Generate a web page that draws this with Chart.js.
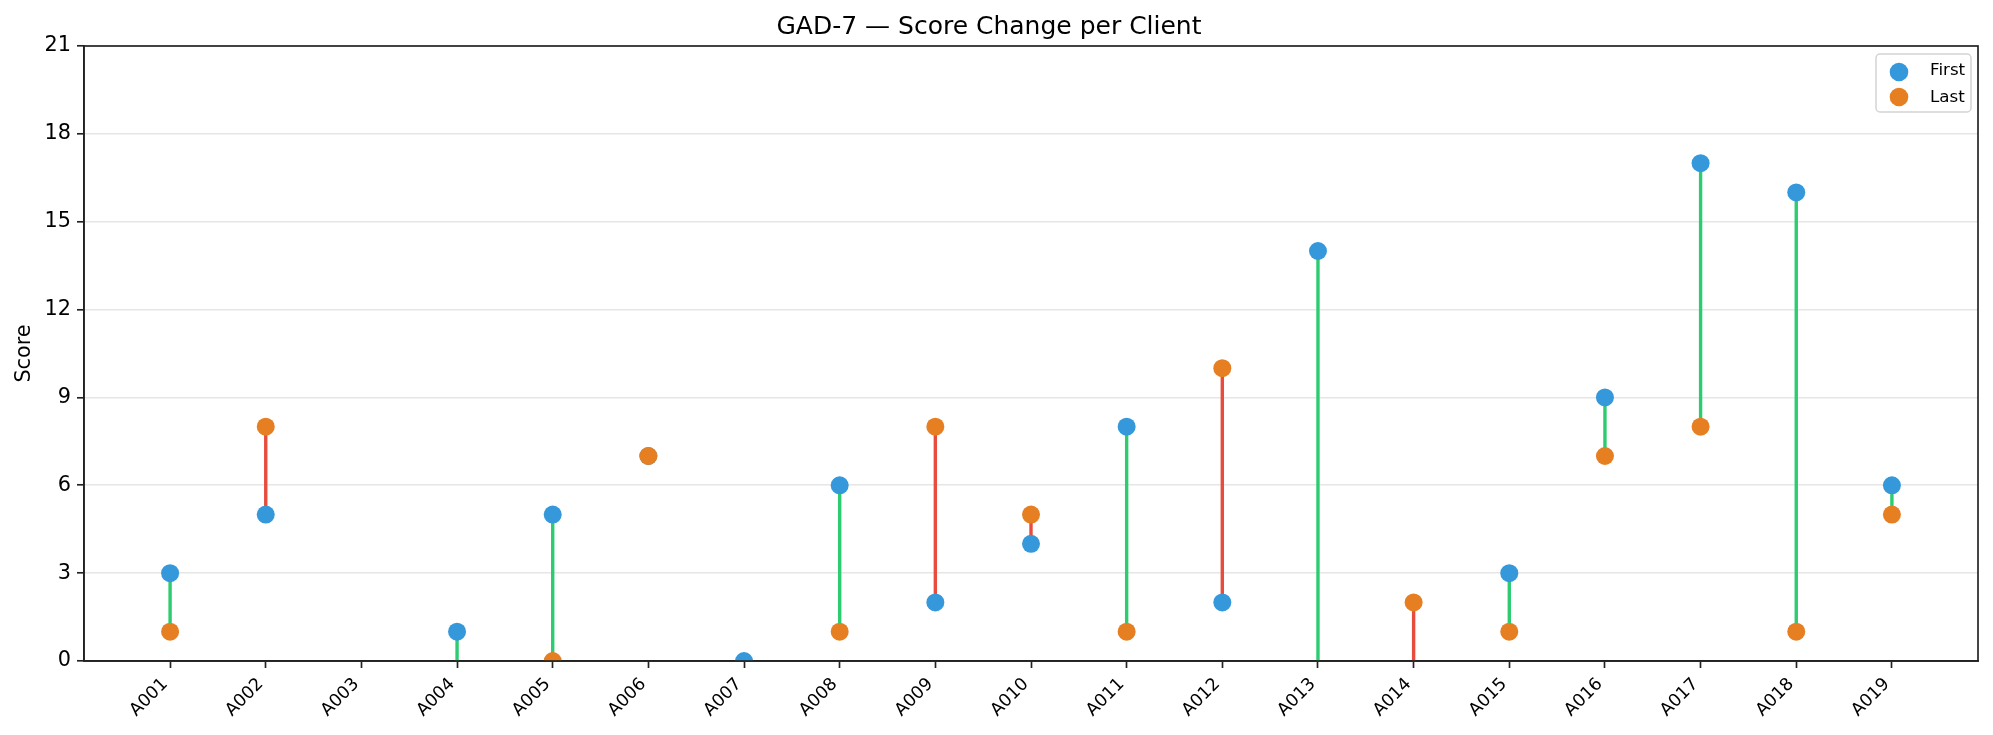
<!DOCTYPE html>
<html>
<head>
<meta charset="utf-8">
<script src="https://cdn.jsdelivr.net/npm/chart.js@4/dist/chart.umd.min.js"></script>
<style>
  html, body { margin: 0; padding: 0; background: #ffffff; }
  #wrap { width: 1993px; height: 735px; }
</style>
</head>
<body>
<div id="wrap"><canvas id="c" width="1993" height="735"></canvas></div>
<script>
// ---- data ----
const clients = ["A001","A002","A003","A004","A005","A006","A007","A008","A009","A010",
                 "A011","A012","A013","A014","A015","A016","A017","A018","A019"];
const firstScores = [3, 5, null, 1, 5, 7, 0, 6, 2, 4, 8, 2, 14, null, 3, 9, 17, 16, 6];
const lastScores  = [1, 8, null, null, 0, 7, null, 1, 8, 5, 1, 10, null, 2, 1, 7, 8, 1, 5];
const yTicks = [0, 3, 6, 9, 12, 15, 18, 21];
const titleText = "GAD-7 \u2014 Score Change per Client";
const yLabel = "Score";

// ---- styles ----
const BLUE = "#3498db", ORANGE = "#e67e22", GREEN = "#2ecc71", RED = "#e74c3c";
const AXIS = "#222222", GRID = "#e6e6e6";
const FONT = "'DejaVu Sans', sans-serif";
const Y_MIN = yTicks[0], Y_MAX = yTicks[yTicks.length - 1];

// segment data: missing values run to the bottom of the axis
const segData = [];
const segColor = [];
clients.forEach((c, i) => {
  const a = firstScores[i], b = lastScores[i];
  if (a === null && b === null) {
    segData.push({x: i, y: null}, {x: i, y: null}, {x: i, y: null});
    segColor.push(GREEN);
    return;
  }
  const ya = a === null ? Y_MIN : a;
  const yb = b === null ? Y_MIN : b;
  segData.push({x: i, y: ya}, {x: i, y: yb}, {x: i, y: null});
  segColor.push(yb > ya ? RED : GREEN);
});

const firstPts = firstScores.map((v, i) => ({x: i, y: v}));
const lastPts = lastScores.map((v, i) => ({x: i, y: v}));

const frameLegend = {
  id: 'frameLegend',
  afterDraw(chart) {
    const {ctx, chartArea: a} = chart;
    ctx.save();
    // spines
    ctx.strokeStyle = AXIS;
    ctx.lineWidth = 1.67;
    ctx.strokeRect(a.left, a.top, a.right - a.left, a.bottom - a.top);
    // legend
    const items = chart.data.datasets.filter(d => d.label);
    const bw = 95, bh = 58;
    const bx = a.right - 7 - bw, by = a.top + 8;
    ctx.beginPath();
    if (ctx.roundRect) ctx.roundRect(bx, by, bw, bh, 4); else ctx.rect(bx, by, bw, bh);
    ctx.fillStyle = "rgba(255,255,255,0.8)";
    ctx.fill();
    ctx.strokeStyle = "#d4d4d4";
    ctx.lineWidth = 1.5;
    ctx.stroke();
    ctx.font = "16.7px " + FONT;
    ctx.textBaseline = "alphabetic";
    ctx.textAlign = "left";
    items.forEach((d, k) => {
      const cy = by + 18 + k * 25;
      ctx.beginPath();
      ctx.arc(bx + 23, cy, 9.3, 0, Math.PI * 2);
      ctx.fillStyle = d.backgroundColor;
      ctx.fill();
      ctx.fillStyle = "#000";
      ctx.fillText(d.label, bx + 54, cy + 3 + k * 1.5);
    });
    ctx.restore();
  }
};

new Chart(document.getElementById('c'), {
  type: 'scatter',
  data: {
    datasets: [
      {
        type: 'line',
        data: segData,
        borderWidth: 3.4,
        borderColor: GREEN,
        pointRadius: 0,
        spanGaps: false,
        segment: { borderColor: ctx => segColor[Math.floor(ctx.p0DataIndex / 3)] },
        order: 3
      },
      {
        label: 'First',
        data: firstPts,
        backgroundColor: BLUE,
        borderWidth: 0,
        pointRadius: 9,
        pointHoverRadius: 9,
        order: 2
      },
      {
        label: 'Last',
        data: lastPts,
        backgroundColor: ORANGE,
        borderWidth: 0,
        pointRadius: 9,
        pointHoverRadius: 9,
        order: 1
      }
    ]
  },
  options: {
    responsive: false,
    animation: false,
    devicePixelRatio: 1,
    layout: { padding: { left: 0, right: 15, top: 0, bottom: 0 } },
    plugins: {
      legend: { display: false },
      tooltip: { enabled: false },
      title: {
        display: true,
        text: titleText,
        color: '#000',
        font: { family: FONT, size: 25, weight: 'normal', lineHeight: 1.2 },
        padding: { top: 12.5, bottom: 3.5 }
      }
    },
    scales: {
      x: {
        type: 'linear',
        min: -0.9,
        max: clients.length - 1 + 0.9,
        afterBuildTicks: ax => { ax.ticks = clients.map((_, i) => ({ value: i })); },
        afterFit: ax => { ax.height = 74; },
        ticks: {
          autoSkip: false,
          minRotation: 45,
          maxRotation: 45,
          padding: 6,
          labelOffset: -5,
          color: '#000',
          font: { family: FONT, size: 17.5 },
          callback: v => clients[v]
        },
        grid: {
          drawOnChartArea: false,
          drawTicks: true,
          tickLength: 7,
          tickWidth: 1.67,
          tickColor: AXIS
        },
        border: { display: true, color: AXIS, width: 1.67 }
      },
      y: {
        min: Y_MIN,
        max: Y_MAX,
        afterBuildTicks: ax => { ax.ticks = yTicks.map(v => ({ value: v })); },
        afterFit: ax => { ax.width = 84; },
        ticks: {
          padding: 6,
          color: '#000',
          font: { family: FONT, size: 20.8 }
        },
        grid: {
          color: GRID,
          lineWidth: 1.6,
          drawTicks: true,
          tickLength: 7,
          tickWidth: 1.67,
          tickColor: AXIS
        },
        border: { display: true, color: AXIS, width: 1.67 },
        title: {
          display: true,
          text: yLabel,
          color: '#000',
          font: { family: FONT, size: 20.8, lineHeight: 1.2 },
          padding: { top: 12.5, bottom: 0 }
        }
      }
    }
  },
  plugins: [frameLegend]
});
</script>
</body>
</html>
